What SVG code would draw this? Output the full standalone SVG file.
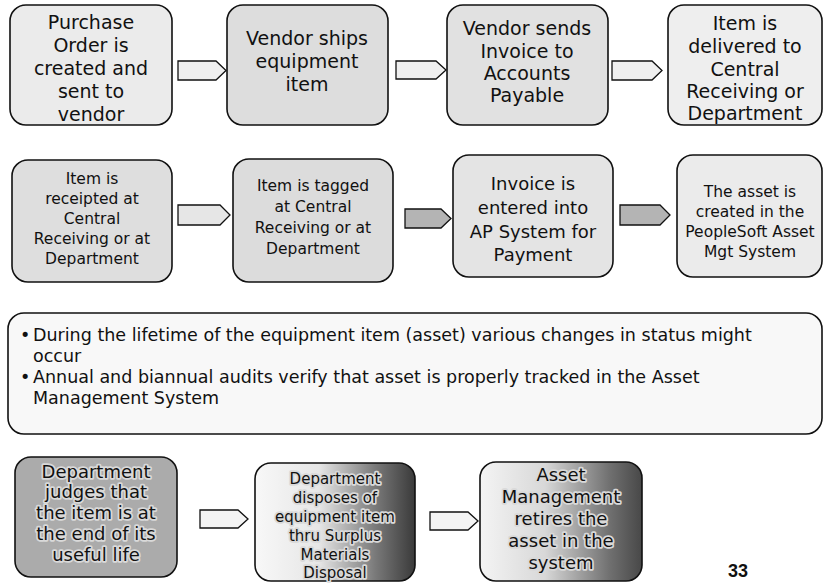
<svg xmlns="http://www.w3.org/2000/svg" width="825" height="583" viewBox="0 0 825 583">
<defs>
<style>
.box{stroke:#111;stroke-width:1.6}
.arr{stroke:#111;stroke-width:1.3}
.t{font-family:"DejaVu Sans","Liberation Sans",sans-serif;fill:#111;text-anchor:middle}
.f19{font-size:19px}
.f18{font-size:18px}
.f16{font-size:15.5px}
.f15{font-size:15px}
.halo{stroke:#d9d9d9;stroke-width:3.5;paint-order:stroke;stroke-linejoin:round}
.b{font-family:"DejaVu Sans","Liberation Sans",sans-serif;font-size:17.5px;fill:#111}
</style>
<linearGradient id="g10" x1="0" y1="0" x2="1" y2="0">
<stop offset="0" stop-color="#f8f8f8"/>
<stop offset="0.4" stop-color="#e6e6e6"/>
<stop offset="0.75" stop-color="#7a7a7a"/>
<stop offset="1" stop-color="#3a3a3a"/>
</linearGradient>
<linearGradient id="g11" x1="0" y1="0" x2="1" y2="0">
<stop offset="0" stop-color="#f4f4f4"/>
<stop offset="0.4" stop-color="#d8d8d8"/>
<stop offset="0.8" stop-color="#707070"/>
<stop offset="1" stop-color="#484848"/>
</linearGradient>
</defs>
<rect width="825" height="583" fill="#ffffff"/>

<g id="connectors">
<path class="arr" fill="#efefef" d="M178 61H216L226 70.5L216 80H178Z"/>
<path class="arr" fill="#efefef" d="M396 61H436L446 70L436 79H396Z"/>
<path class="arr" fill="#efefef" d="M612 61H652L662 70.5L652 80H612Z"/>
<path class="arr" fill="#e6e6e6" d="M178 205H220L230 215L220 225H178Z"/>
<path class="arr" fill="#b4b4b4" d="M405 209H441L451 218.5L441 228H405Z"/>
<path class="arr" fill="#b4b4b4" d="M620 205H660L670 215L660 225H620Z"/>
<path class="arr" fill="#f4f4f4" d="M200 510H238L248 519L238 528H200Z"/>
<path class="arr" fill="#f4f4f4" d="M430 512H468L478 521L468 530H430Z"/>
</g>

<g id="n1">
<rect class="box" x="10" y="5" width="162" height="120" rx="16" fill="#ebebeb"/>
<text class="t f19" x="91" y="29">Purchase</text>
<text class="t f19" x="91" y="52">Order is</text>
<text class="t f19" x="91" y="75">created and</text>
<text class="t f19" x="91" y="98">sent to</text>
<text class="t f19" x="91" y="121">vendor</text>
</g>
<g id="n2">
<rect class="box" x="227" y="5" width="161" height="120" rx="16" fill="#dddddd"/>
<text class="t f19" x="307" y="45">Vendor ships</text>
<text class="t f19" x="307" y="68">equipment</text>
<text class="t f19" x="307" y="91">item</text>
</g>
<g id="n3">
<rect class="box" x="447" y="5" width="161" height="120" rx="16" fill="#e1e1e1"/>
<text class="t f19" x="527" y="35">Vendor sends</text>
<text class="t f19" x="527" y="58">Invoice to</text>
<text class="t f19" x="527" y="80">Accounts</text>
<text class="t f19" x="527" y="102">Payable</text>
</g>
<g id="n4">
<rect class="box" x="668" y="5" width="154" height="120" rx="16" fill="#eeeeee"/>
<text class="t f19" x="745" y="30">Item is</text>
<text class="t f19" x="745" y="53">delivered to</text>
<text class="t f19" x="745" y="76">Central</text>
<text class="t f19" x="745" y="98">Receiving or</text>
<text class="t f19" x="745" y="120">Department</text>
</g>

<g id="n5">
<rect class="box" x="12" y="160" width="160" height="122" rx="16" fill="#dedede"/>
<text class="t f16" x="92" y="184">Item is</text>
<text class="t f16" x="92" y="204">receipted at</text>
<text class="t f16" x="92" y="224">Central</text>
<text class="t f16" x="92" y="244">Receiving or at</text>
<text class="t f16" x="92" y="264">Department</text>
</g>
<g id="n6">
<rect class="box" x="233" y="159" width="160" height="123" rx="16" fill="#dcdcdc"/>
<text class="t f16" x="313" y="191">Item is tagged</text>
<text class="t f16" x="313" y="212">at Central</text>
<text class="t f16" x="313" y="233">Receiving or at</text>
<text class="t f16" x="313" y="254">Department</text>
</g>
<g id="n7">
<rect class="box" x="453" y="155" width="160" height="122" rx="16" fill="#e4e4e4"/>
<text class="t f18" x="533" y="190">Invoice is</text>
<text class="t f18" x="533" y="214">entered into</text>
<text class="t f18" x="533" y="238">AP System for</text>
<text class="t f18" x="533" y="261">Payment</text>
</g>
<g id="n8">
<rect class="box" x="677" y="155" width="145" height="122" rx="16" fill="#ebebeb"/>
<text class="t f16" x="750" y="197">The asset is</text>
<text class="t f16" x="750" y="217">created in the</text>
<text class="t f16" x="750" y="237">PeopleSoft Asset</text>
<text class="t f16" x="750" y="257">Mgt System</text>
</g>

<g id="n9">
<rect class="box" x="8" y="313" width="814" height="121" rx="16" fill="#f8f8f8"/>
<text class="b" x="20" y="341">•</text>
<text class="b" x="33" y="341">During the lifetime of the equipment item (asset) various changes in status might</text>
<text class="b" x="33" y="362">occur</text>
<text class="b" x="20" y="383">•</text>
<text class="b" x="33" y="383">Annual and biannual audits verify that asset is properly tracked in the Asset</text>
<text class="b" x="33" y="404">Management System</text>
</g>

<g id="n10">
<rect class="box" x="15" y="457" width="162" height="120" rx="16" fill="#ababab"/>
<text class="t f18 halo" x="96" y="478">Department</text>
<text class="t f18 halo" x="96" y="498">judges that</text>
<text class="t f18 halo" x="96" y="519">the item is at</text>
<text class="t f18 halo" x="96" y="540">the end of its</text>
<text class="t f18 halo" x="96" y="561">useful life</text>
</g>
<g id="n11">
<rect class="box" x="255" y="463" width="160" height="118" rx="16" fill="url(#g10)"/>
<text class="t f15 halo" x="335" y="484">Department</text>
<text class="t f15 halo" x="335" y="503">disposes of</text>
<text class="t f15 halo" x="335" y="522">equipment item</text>
<text class="t f15 halo" x="335" y="541">thru Surplus</text>
<text class="t f15 halo" x="335" y="560">Materials</text>
<text class="t f15 halo" x="335" y="578">Disposal</text>
</g>
<g id="n12">
<rect class="box" x="480" y="462" width="162" height="119" rx="16" fill="url(#g11)"/>
<text class="t f18 halo" x="561" y="481">Asset</text>
<text class="t f18 halo" x="561" y="503">Management</text>
<text class="t f18 halo" x="561" y="525">retires the</text>
<text class="t f18 halo" x="561" y="547">asset in the</text>
<text class="t f18 halo" x="561" y="569">system</text>
</g>

<text x="738" y="577" font-family="Liberation Sans, Arial, sans-serif" font-size="18" font-weight="bold" fill="#111" text-anchor="middle">33</text>
</svg>
